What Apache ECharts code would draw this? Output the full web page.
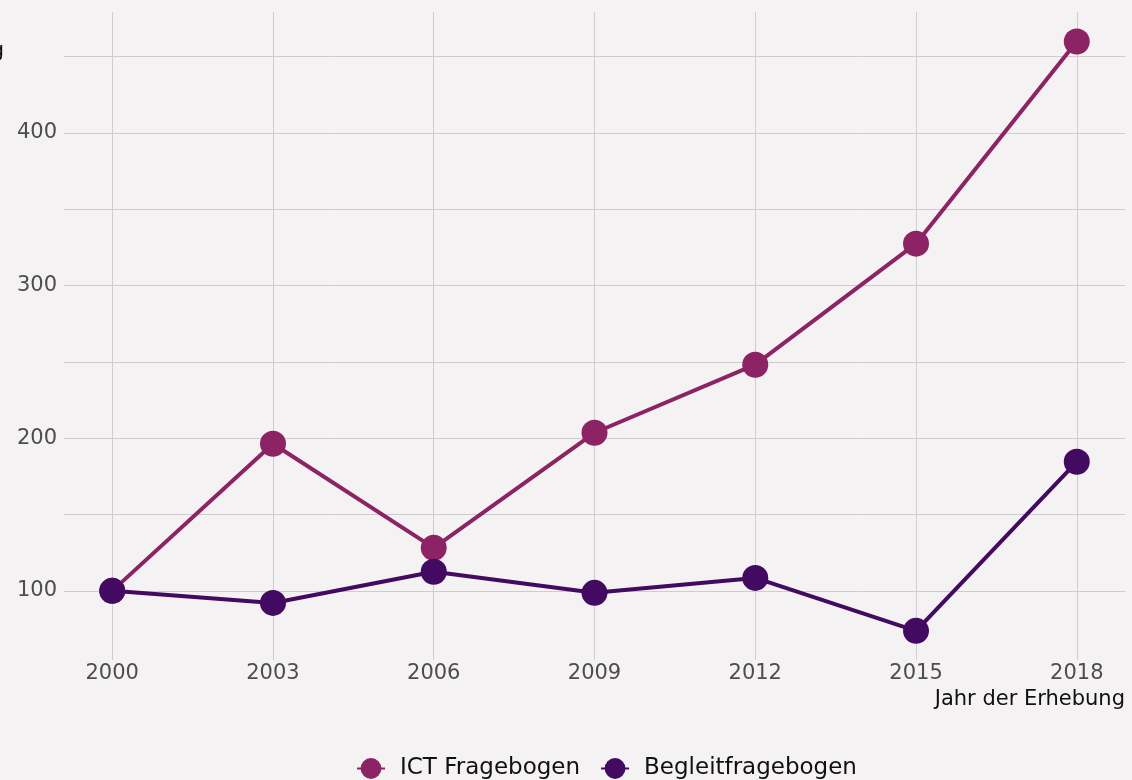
<!DOCTYPE html>
<html><head><meta charset="utf-8">
<script src="https://cdn.jsdelivr.net/npm/echarts@6/dist/echarts.min.js"></script>
<style>html,body{margin:0;padding:0;background:#f4f2f3}#c{width:1132px;height:780px}</style>
</head><body><div id="c"></div>
<script>
const years = [2000, 2003, 2006, 2009, 2012, 2015, 2018];
const ictValues = [100, 196.4, 128.2, 203.6, 248.2, 327.5, 460];
const begleitValues = [100, 92.1, 112.5, 98.7, 108.5, 73.8, 184.6];
const yGridValues = [100, 150, 200, 250, 300, 350, 400, 450];
const yLabelValues = [100, 200, 300, 400];
const seriesNames = ['ICT Fragebogen', 'Begleitfragebogen'];
const xName = 'Jahr der Erhebung';
const yName = 'Entwicklung';

const FONT = '"DejaVu Sans", sans-serif';
const chart = echarts.init(document.getElementById('c'));
const pair = (vals) => years.map((y, i) => [y, vals[i]]);
chart.setOption({
  backgroundColor: '#f4f2f3',
  animation: false,
  textStyle: { fontFamily: FONT },
  grid: { left: 64, right: 7, top: 12, bottom: 120, containLabel: false },
  xAxis: {
    type: 'value', min: 1999.1, max: 2018.9,
    axisLine: { show: false },
    axisTick: { show: false, customValues: years },
    axisLabel: { customValues: years, formatter: (v) => String(v), color: '#4d4d4d', fontSize: 21, margin: 3, fontFamily: FONT },
    splitLine: { show: true, lineStyle: { color: '#cfcccf', width: 1 } }
  },
  yAxis: {
    type: 'value', min: 54.7, max: 479.3,
    axisLine: { show: false },
    axisTick: { show: false, customValues: yGridValues },
    axisLabel: { customValues: yLabelValues, color: '#4d4d4d', fontSize: 21, margin: 7, fontFamily: FONT },
    splitLine: { show: true, lineStyle: { color: '#cfcccf', width: 1 } }
  },
  legend: {
    top: 752, left: 351, itemWidth: 28, itemHeight: 26, itemGap: 20,
    textStyle: { color: '#111', fontSize: 23, fontFamily: FONT, padding: [0, 0, 0, 10] },
    data: seriesNames
  },
  graphic: [
    { type: 'text', right: 7, top: 689, style: { text: xName, fill: '#111', font: '21px ' + FONT } },
    { type: 'text', x: 4, y: 41, style: { text: yName, fill: '#111', font: '21px ' + FONT, textAlign: 'right' } }
  ],
  series: [
    { name: seriesNames[0], type: 'line', data: pair(ictValues), symbol: 'circle', symbolSize: 26,
      itemStyle: { color: '#8c2364' }, lineStyle: { color: '#8c2364', width: 4 }, z: 2 },
    { name: seriesNames[1], type: 'line', data: pair(begleitValues), symbol: 'circle', symbolSize: 26,
      itemStyle: { color: '#420a60' }, lineStyle: { color: '#420a60', width: 4 }, z: 3 }
  ]
});
</script></body></html>
